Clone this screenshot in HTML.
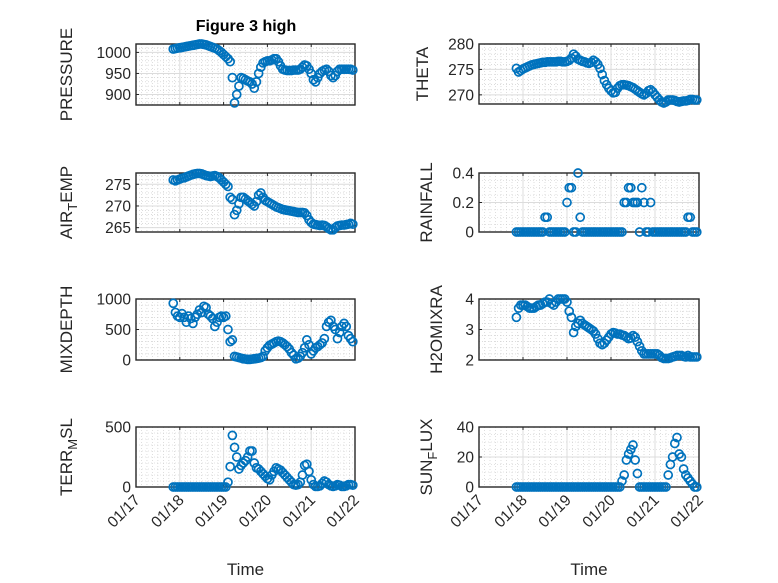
<!DOCTYPE html>
<html><head><meta charset="utf-8"><style>
html,body{margin:0;padding:0;background:#fff;}
svg{display:block;font-family:"Liberation Sans","DejaVu Sans",sans-serif;}
</style></head><body>
<svg id="fig" width="778" height="583" viewBox="0 0 778 583" xmlns="http://www.w3.org/2000/svg">
<rect width="778" height="583" fill="#fff"/>
<text x="246" y="31" text-anchor="middle" font-size="16" font-weight="bold" fill="#000">Figure 3 high</text>
</svg>
<script>
const times=[17.85,17.9,17.95,18.0,18.05,18.1,18.15,18.2,18.25,18.3,18.35,18.4,18.45,18.5,18.55,18.6,18.65,18.7,18.75,18.8,18.85,18.9,18.95,19.0,19.05,19.1,19.15,19.2,19.25,19.3,19.35,19.4,19.45,19.5,19.55,19.6,19.65,19.7,19.75,19.8,19.85,19.9,19.95,20.0,20.05,20.1,20.15,20.2,20.25,20.3,20.35,20.4,20.45,20.5,20.55,20.6,20.65,20.7,20.75,20.8,20.85,20.9,20.95,21.0,21.05,21.1,21.15,21.2,21.25,21.3,21.35,21.4,21.45,21.5,21.55,21.6,21.65,21.7,21.75,21.8,21.85,21.9,21.95];
const xTickValues=[17,18,19,20,21,22];
const xTickLabels=["01/17","01/18","01/19","01/20","01/21","01/22"];
const pressure=[1008,1009,1010,1011,1012,1013,1014,1015,1016,1017,1018,1019,1020,1020,1019,1018,1016,1014,1012,1010,1008,1004,1000,995,990,985,978,940,880,900,920,940,938,935,932,930,925,915,930,950,965,975,978,980,980,982,985,985,978,968,960,958,957,957,957,958,958,958,960,965,970,968,960,950,935,930,940,950,955,958,960,955,945,940,945,955,960,960,960,960,960,960,958];
const airTemp=[276,275.8,276,276.2,276.4,276.5,276.7,276.9,277.1,277.3,277.4,277.5,277.5,277.4,277.2,277,276.9,276.8,276.9,277,276.8,276.5,276,275.5,275,274.5,272,271.5,268,269,270.5,272,272,271.6,271.2,270.8,270.4,270,271,272.5,273,272,271.3,271,270.7,270.4,270.1,269.8,269.6,269.4,269.2,269.1,269,268.9,268.8,268.7,268.6,268.5,268.5,268.5,268.4,267.8,266.8,266.2,265.8,265.7,265.6,265.5,265.6,265.5,265.2,264.8,264.5,264.5,265,265.4,265.5,265.6,265.6,265.7,265.8,266,265.8];
const theta=[275.2,274.5,274.8,275.1,275.3,275.5,275.7,275.9,276,276.1,276.2,276.3,276.4,276.4,276.5,276.5,276.5,276.5,276.5,276.6,276.6,276.5,276.5,276.6,276.8,277.2,278,277.6,277,276.8,276.6,276.5,276.3,276.2,276.4,276.8,276.5,276,275.2,274,272.8,272,271.3,270.8,270.4,270.5,271.3,271.8,272,272,271.9,271.8,271.6,271.4,271.1,270.8,270.5,270.2,270,270.3,270.8,271,270.6,270,269.5,269,268.6,268.4,268.6,269,269,269,268.9,268.7,268.6,268.7,268.8,268.8,268.9,269.1,269.1,269,269];
const rainfall=[0,0,0,0,0,0,0,0,0,0,0,0,0,0.1,0.1,0,0,0,0,0,0,0,0,0.2,0.3,0.3,0,0,0.4,0.1,0,0,0,0,0,0,0,0,0,0,0,0,0,0,0,0,0,0,0,0.2,0.2,0.3,0.3,0.2,0.2,0.2,0,0.3,0.2,0,0,0.2,0,0,0,0,0,0,0,0,0,0,0,0,0,0,0,0,0.1,0.1,0,0,0];
const mixDepth=[930,780,720,700,760,700,620,720,680,600,700,750,820,780,880,860,750,720,680,550,620,700,720,700,720,500,300,330,60,50,40,30,20,15,10,10,15,20,25,30,40,60,150,200,240,260,280,300,310,300,280,250,220,180,120,80,20,30,60,120,200,330,250,100,150,200,220,250,280,350,550,620,650,550,500,350,450,550,600,550,400,350,300];
const h2oMix=[3.4,3.7,3.8,3.8,3.8,3.75,3.7,3.7,3.7,3.75,3.8,3.8,3.85,3.9,3.9,4.0,3.85,3.8,3.9,4.0,4.0,4.0,4.0,3.9,3.6,3.4,2.9,3.1,3.2,3.3,3.2,3.15,3.1,3.05,3.0,2.95,2.85,2.7,2.55,2.5,2.55,2.65,2.75,2.85,2.9,2.88,2.85,2.85,2.82,2.8,2.75,2.7,2.72,2.8,2.75,2.6,2.45,2.3,2.2,2.2,2.2,2.2,2.2,2.2,2.2,2.15,2.08,2.05,2.05,2.05,2.07,2.1,2.12,2.15,2.15,2.15,2.12,2.1,2.15,2.1,2.1,2.1,2.1];
const terrMsl=[0,0,0,0,0,0,0,0,0,0,0,0,0,0,0,0,0,0,0,0,0,0,0,0,0,40,170,430,330,250,150,180,200,220,250,300,300,200,160,150,130,110,90,70,60,100,130,160,150,140,120,100,80,60,40,20,15,20,40,100,180,190,130,60,20,5,5,10,30,50,40,20,10,5,10,20,15,5,5,10,20,20,15];
const sunFlux=[0,0,0,0,0,0,0,0,0,0,0,0,0,0,0,0,0,0,0,0,0,0,0,0,0,0,0,0,0,0,0,0,0,0,0,0,0,0,0,0,0,0,0,0,0,0,0,0,4,8,18,22,25,28,18,9,0,0,0,0,0,0,0,0,0,0,0,0,0,8,15,20,29,33,22,20,12,8,6,4,2,0,0];

const NS="http://www.w3.org/2000/svg";
const svg=document.getElementById('fig');
function mk(tag,attrs,parent){const e=document.createElementNS(NS,tag);for(const k in attrs)e.setAttribute(k,attrs[k]);(parent||svg).appendChild(e);return e;}

const panels=[
 {name:'pressure',data:pressure,x0:136,x1:355,y0:44,y1:105,ymin:875,ymax:1020,yt:[900,950,1000],minor:10,label:['PRESSURE'],lx:72,xt:false},
 {name:'theta',data:theta,x0:479,x1:699,y0:44,y1:104,ymin:268.2,ymax:280,yt:[270,275,280],minor:1,label:['THETA'],lx:428,xt:false},
 {name:'air-temp',data:airTemp,x0:136,x1:355,y0:173,y1:232,ymin:264,ymax:277.6,yt:[265,270,275],minor:1,label:['AIR','T','EMP'],lx:72,xt:false},
 {name:'rainfall',data:rainfall,x0:479,x1:699,y0:173,y1:232,ymin:0,ymax:0.4,yt:[0,0.2,0.4],minor:0.05,label:['RAINFALL'],lx:432,xt:false},
 {name:'mixdepth',data:mixDepth,x0:136,x1:355,y0:299,y1:360,ymin:0,ymax:1000,yt:[0,500,1000],minor:100,label:['MIXDEPTH'],lx:72,xt:false},
 {name:'h2omixra',data:h2oMix,x0:479,x1:699,y0:299,y1:360,ymin:2,ymax:4,yt:[2,3,4],minor:0.2,label:['H2OMIXRA'],lx:442,xt:false},
 {name:'terr-msl',data:terrMsl,x0:136,x1:355,y0:427,y1:487,ymin:0,ymax:500,yt:[0,500],minor:50,label:['TERR','M','SL'],lx:72,xt:true},
 {name:'sun-flux',data:sunFlux,x0:479,x1:699,y0:427,y1:487,ymin:0,ymax:40,yt:[0,20,40],minor:5,label:['SUN','F','LUX'],lx:432,xt:true}
];

panels.forEach(p=>{
  const g=mk('g',{});
  
  
  const sx=t=>p.x0+(t-17)/(22-17)*(p.x1-p.x0);
  const sy=v=>p.y1-(v-p.ymin)/(p.ymax-p.ymin)*(p.y1-p.y0);
  mk('rect',{x:p.x0,y:p.y0,width:p.x1-p.x0,height:p.y1-p.y0,fill:'#fff'},g);
  for(let t=17;t<22-1e-6;t+=0.125){ if(Math.abs(t-Math.round(t))<1e-6)continue;
    mk('line',{x1:sx(t),x2:sx(t),y1:p.y0,y2:p.y1,stroke:'#c8c8c8','stroke-width':0.6,'stroke-dasharray':'1,2'},g);}
  const ystart=Math.ceil(p.ymin/p.minor-1e-9)*p.minor;
  for(let v=ystart;v<=p.ymax+1e-9;v+=p.minor){
    if(p.yt.some(m=>Math.abs(m-v)<1e-6))continue;
    mk('line',{x1:p.x0,x2:p.x1,y1:sy(v),y2:sy(v),stroke:'#c8c8c8','stroke-width':0.6,'stroke-dasharray':'1,2'},g);}
  xTickValues.forEach(t=>mk('line',{x1:sx(t),x2:sx(t),y1:p.y0,y2:p.y1,stroke:'#dcdcdc','stroke-width':1},g));
  p.yt.forEach(v=>mk('line',{x1:p.x0,x2:p.x1,y1:sy(v),y2:sy(v),stroke:'#dcdcdc','stroke-width':1},g));
  xTickValues.forEach(t=>{mk('line',{x1:sx(t),x2:sx(t),y1:p.y1,y2:p.y1-3,stroke:'#262626','stroke-width':1},g);
    mk('line',{x1:sx(t),x2:sx(t),y1:p.y0,y2:p.y0+3,stroke:'#262626','stroke-width':1},g);});
  p.yt.forEach(v=>{
    mk('line',{x1:p.x0,x2:p.x0+3,y1:sy(v),y2:sy(v),stroke:'#262626','stroke-width':1},g);
    const tx=mk('text',{x:p.x0-5,y:sy(v)+5.5,'text-anchor':'end','font-size':15.5,fill:'#262626'},g);
    
    
    tx.textContent=String(v);
  });
  mk('rect',{x:p.x0,y:p.y0,width:p.x1-p.x0,height:p.y1-p.y0,fill:'none',stroke:'#262626','stroke-width':1.4},g);
  p.data.forEach((v,i)=>{
    const c=mk('circle',{cx:sx(times[i]),cy:sy(v),r:4,fill:'none',stroke:'#0072BD','stroke-width':1.7},g);
    
    
  });
  const cy=(p.y0+p.y1)/2;
  const yl=mk('text',{x:0,y:0,transform:`translate(${p.lx},${cy}) rotate(-90)`,'text-anchor':'middle','font-size':17,fill:'#262626'},g);
  
  
  if(p.label.length===1){yl.textContent=p.label[0];}
  else{
    const a=mk('tspan',{},yl);a.textContent=p.label[0];
    const b=mk('tspan',{dy:5,'font-size':13},yl);b.textContent=p.label[1];
    const c=mk('tspan',{dy:-5},yl);c.textContent=p.label[2];
  }
  if(p.xt){
    xTickValues.forEach((t,i)=>{
      const tx=mk('text',{x:0,y:0,transform:`translate(${sx(t)+5},${p.y1+14}) rotate(-45)`,'text-anchor':'end','font-size':15.5,fill:'#262626'},g);
      
      
      tx.textContent=xTickLabels[i];
    });
    const xl=mk('text',{x:(p.x0+p.x1)/2,y:575,'text-anchor':'middle','font-size':17,fill:'#262626'},g);
    
    
    xl.textContent='Time';
  }
});
</script>
</body></html>
